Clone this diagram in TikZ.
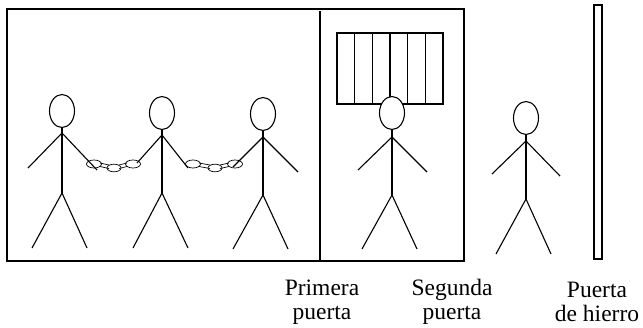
\documentclass[tikz,border=0pt]{standalone}
\usepackage{fontspec}
\setmainfont{Liberation Serif}
\begin{document}
\begin{tikzpicture}[x=1pt,y=-1pt,
  wall/.style={line width=1.6pt},
  fig/.style={line width=1.1pt},
  bars/.style={line width=1.4pt},
  link/.style={line width=0.7pt},
  lbl/.style={font=\fontsize{23.5}{24.5}\selectfont, align=center, inner sep=0pt}]
\useasboundingbox (0,0) rectangle (643,327);

% stick figure: head centre x, head centre y, shoulder y, hip y, hands, feet
\newcommand\monigote[8]{%
  \draw[fig, fill=white] (#1,#2) ellipse (12.5pt and 16.5pt);
  \draw[fig] (#1,#2+16.5) -- (#1,#4);
  \draw[fig] #5 -- (#1,#3) -- #6;
  \draw[fig] #7 -- (#1,#4) -- #8;
}
% one piece of chain: oval links joined by slim links
\newcommand\cadena[3]{%
  \draw[link] (#1,164) ellipse (7.5pt and 4pt);
  \draw[link] (#1+6,166.5) -- (#2-5,168.5) (#1+6,163) -- (#2-5,165);
  \draw[link] (#2,168) ellipse (7pt and 3.8pt);
  \draw[link] (#2+5,165) -- (#3-6,163) (#2+5,168.5) -- (#3-6,166.5);
  \draw[link] (#3,164) ellipse (7.5pt and 4pt);
}

% cells and divider
\draw[wall] (7,9) rectangle (464,261);
\draw[wall] (320,11) -- (320,261);

% barred window
\draw[bars] (337,33) rectangle (443,104);
\foreach \bx in {354.7,372.3,390,407.7,425.3}
  \draw[bars] (\bx,33) -- (\bx,104);

% iron door
\draw[line width=1.2pt] (594,5) rectangle (602,259);

% prisoners
\monigote{62}{111}{133}{193}{(28,168)}{(97,170)}{(32,248)}{(87,248)}
\monigote{162}{113}{135}{193}{(137,163)}{(188,168)}{(133,248)}{(188,248)}
\monigote{263}{114}{137}{195}{(233,167)}{(298,172)}{(233,249)}{(288,249)}
\monigote{392}{113}{137}{195}{(358,170)}{(427,172)}{(362,249)}{(417,249)}
\monigote{526}{118}{141}{199}{(492,174)}{(560,176)}{(496,254)}{(551,254)}

% chains
\cadena{94}{114}{133}
\cadena{193}{215}{235}

% labels
\node[lbl] (primera) at (322,302) {Primera\\puerta};
\node[lbl] (segunda) at (452,302) {Segunda\\puerta};
\node[lbl] (hierro) at (597,302) {Puerta\\de hierro};
\end{tikzpicture}
\end{document}
